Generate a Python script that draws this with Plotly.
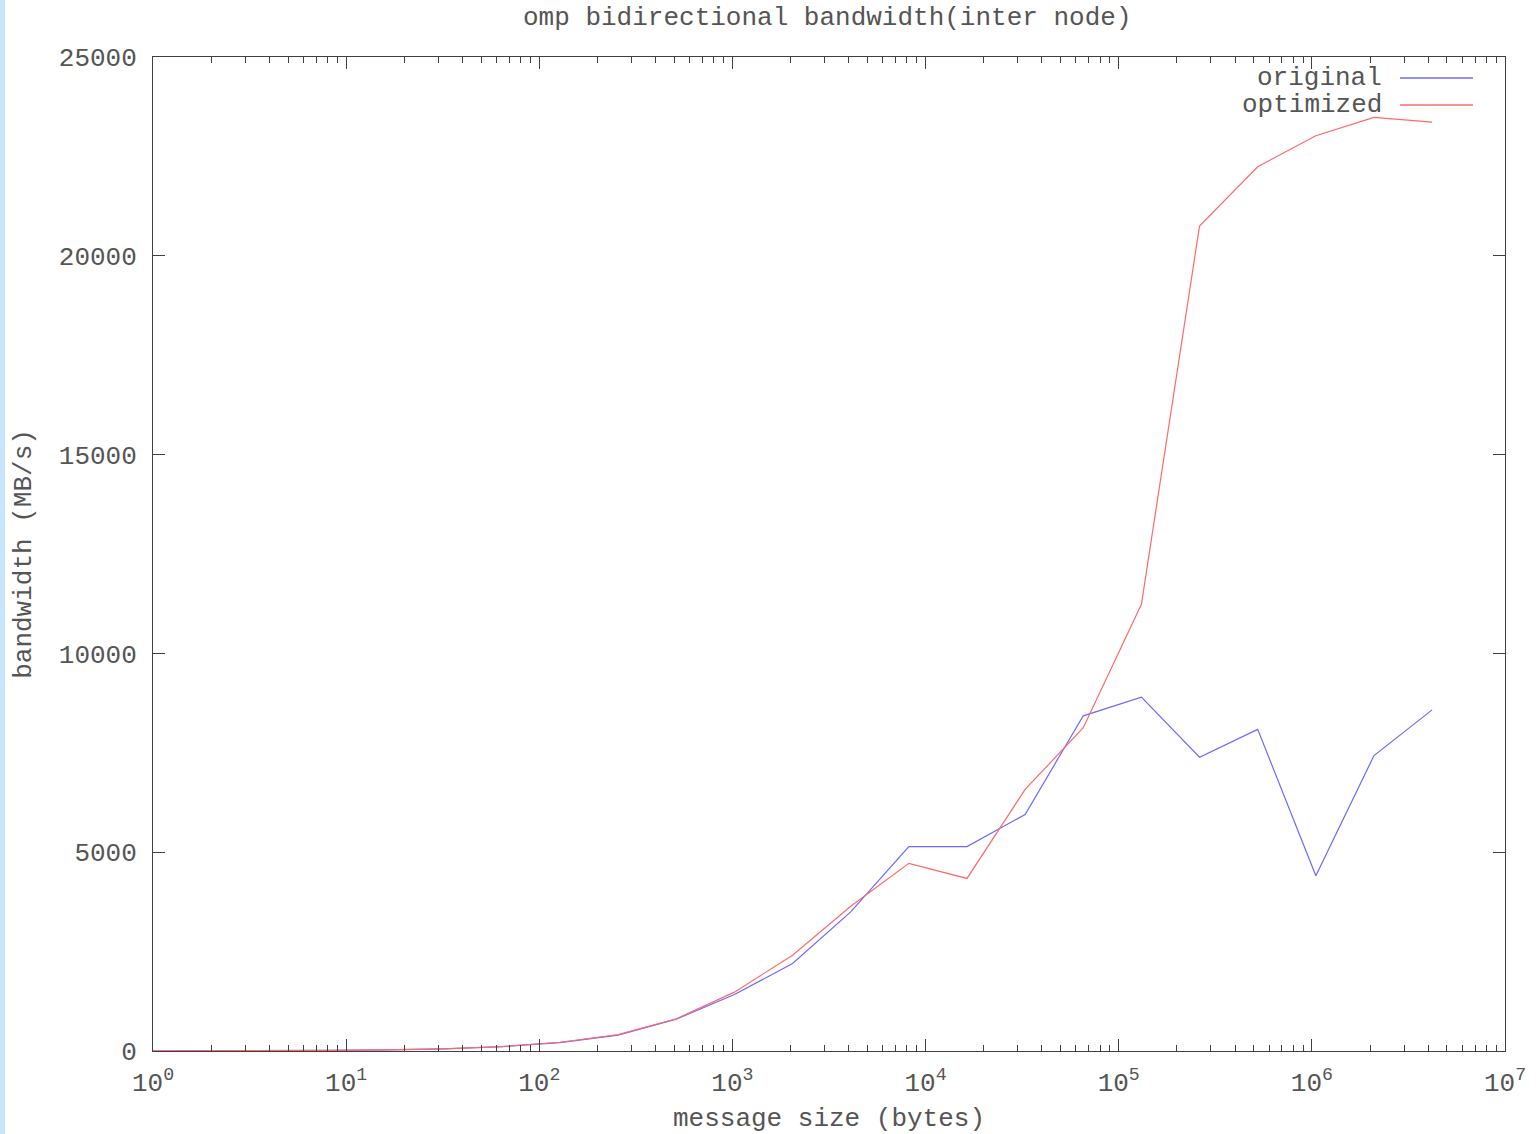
import plotly.graph_objects as go

# ---- data ----
message_size = [1, 2, 4, 8, 16, 32, 64, 128, 256, 512, 1024, 2048, 4096, 8192,
                16384, 32768, 65536, 131072, 262144, 524288, 1048576, 2097152, 4194304]
original = [1.7, 3.5, 7, 14, 28, 55, 110, 210, 400, 800, 1420, 2200, 3500, 5140,
            5140, 5950, 8430, 8900, 7390, 8090, 4410, 7430, 8580]
optimized = [1.7, 3.5, 7, 14, 28, 55, 110, 220, 410, 810, 1480, 2410, 3640, 4720,
             4340, 6580, 8130, 11235, 20750, 22240, 23020, 23480, 23360]
series_names = ["original", "optimized"]
series_colors = ["#6a6aff", "#ff6a6a"]

x_tick_vals = [1, 10, 100, 1000, 10000, 100000, 1000000, 10000000]
x_tick_text = ["10<sup>0</sup>", "10<sup>1</sup>", "10<sup>2</sup>", "10<sup>3</sup>",
               "10<sup>4</sup>", "10<sup>5</sup>", "10<sup>6</sup>", "10<sup>7</sup>"]
y_tick_vals = [0, 5000, 10000, 15000, 20000, 25000]
y_tick_text = ["0", "5000", "10000", "15000", "20000", "25000"]
x_minor_vals = [m * 10 ** d for d in range(7) for m in range(2, 10)]

title_text = "omp bidirectional bandwidth(inter node)"
x_title = "message size (bytes)"
y_title = "bandwidth (MB/s)"

FONT = "Liberation Mono, Courier New, monospace"
AXC = "#404040"
TXC = "#555555"
FS = 26

W, H = 1539, 1134
L, R, T, B = 153, 34, 57, 83
pw = W - L - R
ph = H - T - B

fig = go.Figure()
for name, vals, col in zip(series_names, [original, optimized], series_colors):
    fig.add_trace(go.Scatter(x=message_size, y=vals, mode="lines", name=name,
                             line=dict(color=col, width=1.2), showlegend=False))

# manual gnuplot-style legend (text right, sample line left)
legend_y = [(1051 - 78) / ph, (1051 - 105) / ph]
for name, col, ly in zip(series_names, series_colors, legend_y):
    fig.add_annotation(xref="paper", yref="paper", x=(1384 - L) / pw, y=ly,
                       xanchor="right", yanchor="middle", text=name, showarrow=False,
                       font=dict(family=FONT, size=FS, color=TXC))
    fig.add_shape(type="line", xref="paper", yref="paper",
                  x0=(1400 - L) / pw, x1=(1473 - L) / pw, y0=ly, y1=ly,
                  line=dict(color=col, width=1.3))

# title as annotation for exact placement
fig.add_annotation(xref="paper", yref="paper", x=(827 - L) / pw, y=(1051 - 18) / ph,
                   xanchor="center", yanchor="middle", text=title_text, showarrow=False,
                   font=dict(family=FONT, size=FS, color=TXC))

# light blue strip at left edge of the page
fig.add_shape(type="rect", xref="paper", yref="paper", layer="below",
              x0=-L / pw, x1=-(L - 5) / pw, y0=-B / ph, y1=(ph + T) / ph,
              fillcolor="#c6e4fb", line=dict(width=0))

fig.update_layout(
    width=W, height=H,
    margin=dict(l=L, r=R, t=T, b=B, autoexpand=False),
    paper_bgcolor="white", plot_bgcolor="white",
    font=dict(family=FONT, size=FS, color=TXC),
)
fig.update_xaxes(
    type="log", range=[0, 7], automargin=False,
    tickmode="array", tickvals=x_tick_vals, ticktext=x_tick_text,
    ticks="inside", ticklen=12, tickcolor=AXC, tickwidth=1,
    minor=dict(tickmode="array", tickvals=x_minor_vals, ticks="inside",
               ticklen=6, tickcolor=AXC, tickwidth=1, showgrid=False),
    showline=True, linecolor=AXC, linewidth=1, mirror="ticks",
    showgrid=False, zeroline=False, ticklabelstandoff=8,
    tickfont=dict(family=FONT, size=FS, color=TXC),
    title=dict(text=x_title, standoff=12, font=dict(family=FONT, size=FS, color=TXC)),
)
fig.update_yaxes(
    range=[0, 25000], automargin=False,
    tickmode="array", tickvals=y_tick_vals, ticktext=y_tick_text,
    ticks="inside", ticklen=12, tickcolor=AXC, tickwidth=1,
    showline=True, linecolor=AXC, linewidth=1, mirror="ticks",
    showgrid=False, zeroline=False, ticklabelstandoff=10,
    tickfont=dict(family=FONT, size=FS, color=TXC),
    title=dict(text=y_title, standoff=19, font=dict(family=FONT, size=FS, color=TXC)),
)

fig.write_html("out.html", config={"displayModeBar": False},
               post_script="document.body.style.margin='0px';")
